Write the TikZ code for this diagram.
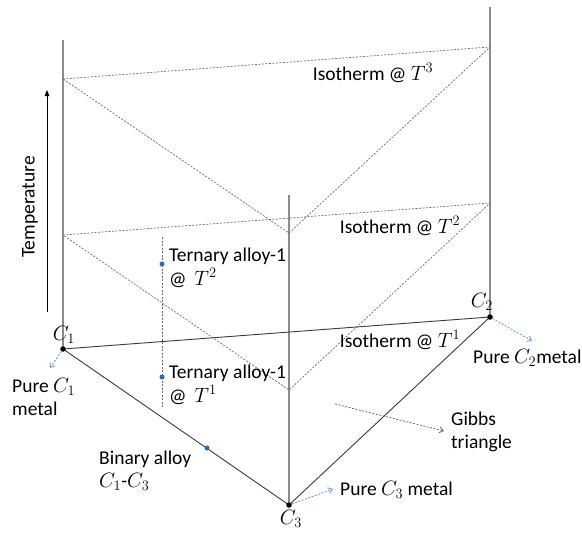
\documentclass[tikz,border=0pt]{standalone}
\usepackage{fontspec}
\setmainfont{Carlito}
\usetikzlibrary{arrows.meta}
\definecolor{axisgray}{HTML}{8C8C8C}
\definecolor{dashgray}{HTML}{6A6A6A}
\definecolor{lineblk}{HTML}{3A3A3A}
\definecolor{dotblue}{HTML}{1F6FC0}
\definecolor{arrblue}{HTML}{6F9BD8}
\tikzset{
  axisline/.style={draw=axisgray, line width=1.4pt},
  baseline/.style={draw=lineblk, line width=0.9pt},
  isoline/.style={draw=dashgray, line width=0.7pt, dash pattern=on 2pt off 1.5pt},
  bluearrow/.style={draw=arrblue, line width=0.9pt, dash pattern=on 2pt off 1.5pt, -{Straight Barb[length=4pt,width=6pt]}},
  grayarrow/.style={draw=dashgray, line width=0.8pt, dash pattern=on 2pt off 1.5pt, -{Straight Barb[length=4pt,width=6pt]}},
  lbl/.style={font=\fontsize{19.5}{23}\selectfont, inner sep=0pt, text=black},
  blkdot/.style={circle, fill=black, inner sep=0pt, minimum size=5.5pt},
  bludot/.style={circle, fill=dotblue, inner sep=0pt, minimum size=5pt},
}
\begin{document}
\begin{tikzpicture}[x=1pt,y=-1pt]
\useasboundingbox (0,0) rectangle (582,533);
% base vertices
\coordinate (C1) at (63,349);
\coordinate (C2) at (490,317);
\coordinate (C3) at (289,505);
% axis tops
\coordinate (C1top) at (63,40);
\coordinate (C2top) at (490,7);
\coordinate (C3top) at (289,195);
% isotherm T3
\coordinate (A3) at (63,79);
\coordinate (B3) at (490,47);
\coordinate (D3) at (289,233);
% isotherm T2
\coordinate (A2) at (63,235);
\coordinate (B2) at (490,203);
\coordinate (D2) at (289,390);
% vertical axes
\draw[axisline] (C1top) -- (C1);
\draw[axisline] (C2top) -- (C2);
\draw[axisline] (C3top) -- (C3);
% isotherms
\draw[isoline] (A3) -- (B3) -- (D3) -- cycle;
\draw[isoline] (A2) -- (B2) -- (D2) -- cycle;
% base triangle
\draw[baseline] (C1) -- (C2) -- (C3) -- cycle;
% ternary alloy line
\coordinate (Tt) at (162,237);
\coordinate (Tb) at (162,408);
\draw[isoline] (Tt) -- (Tb);
\node[bludot] (P2) at (162,264) {};
\node[bludot] (P1) at (162,377) {};
\node[bludot] (PB) at (207,448) {};
% vertex dots
\node[blkdot] (V1) at (C1) {};
\node[blkdot] (V2) at (C2) {};
\node[blkdot] (V3) at (C3) {};
% temperature arrow
\coordinate (Tlo) at (47,312);
\coordinate (Thi) at (47,90);
\draw[draw=black, line width=0.9pt, -{Triangle[length=6pt,width=4.5pt]}] (Tlo) -- (Thi);
\node[lbl, rotate=90] (temp) at (30,207) {Temperature};
% labels
\node[lbl] (iso3) at (373,73) {Isotherm @ $T^3$};
\node[lbl] (iso2) at (400,226) {Isotherm @ $T^2$};
\node[lbl] (iso1) at (400,340) {Isotherm @ $T^1$};
\node[lbl, anchor=west] (ta2) at (169,256) {Ternary alloy-1};
\node[lbl, anchor=west] (ta2b) at (169,278) {@ \,$T^2$};
\node[lbl, anchor=west] (ta1) at (169,373) {Ternary alloy-1};
\node[lbl, anchor=west] (ta1b) at (169,395) {@ \,$T^1$};
\node[lbl] (c1l) at (64,335) {$C_1$};
\node[lbl] (c2l) at (482,302) {$C_2$};
\node[lbl] (c3l) at (291,519) {$C_3$};
\node[lbl, anchor=west, align=left] (pc1) at (12,397) {Pure $C_1$\\metal};
\node[lbl, anchor=west] (pc2) at (473,358) {Pure $C_2$metal};
\node[lbl, anchor=west] (pc3) at (340,490) {Pure $C_3$ metal};
\node[lbl, anchor=west, align=left] (gibbs) at (451,432) {Gibbs\\triangle};
\node[lbl, anchor=west, align=left] (bin) at (99,471) {Binary alloy\\$C_1$-$C_3$};
% arrows
\coordinate (a1) at (50,368);
\coordinate (a2) at (532,341);
\coordinate (a3) at (333,489);
\draw[bluearrow] (V1) -- (a1);
\draw[bluearrow] (V2) -- (a2);
\draw[bluearrow] (V3) -- (a3);
\coordinate (g0) at (335,404);
\coordinate (g1) at (444,431);
\draw[grayarrow] (g0) -- (g1);
\end{tikzpicture}
\end{document}
